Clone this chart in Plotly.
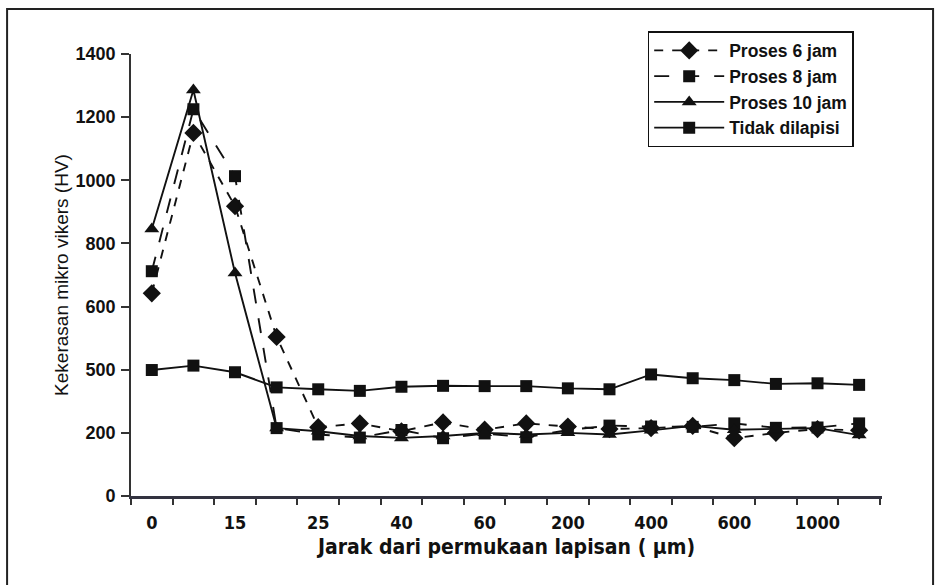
import plotly.graph_objects as go

# Distance from the coating surface (category order along the x axis)
jarak = ["0", "10", "15", "20", "25", "30", "40", "50", "60",
         "100", "200", "300", "400", "500", "600", "800", "1000", "1200"]

# Micro Vickers hardness (HV) for each treatment
proses_6 = [642, 1150, 918, 504, 218, 230, 205, 233, 210,
            230, 220, 212, 215, 222, 183, 200, 212, 208]
proses_8 = [712, 1225, 1013, 215, 195, 185, 209, 183, 198,
            186, 209, 223, 220, 219, 230, 216, 217, 230]
proses_10 = [846, 1286, 706, 215, 205, 190, 184, 190, 200,
             195, 200, 195, 208, 222, 210, 212, 215, 193]
tidak_dilapisi = [399, 413, 392, 344, 338, 333, 346, 349, 348,
                  348, 341, 338, 385, 373, 367, 355, 357, 352]

# Y tick labels as printed on the axis
y_tickvals = [0, 200, 400, 600, 800, 1000, 1200, 1400]
y_ticktext = ["0", "200", "500", "600", "800", "1000", "1200", "1400"]

# Only every second distance is labelled
x_ticktext = [c if i % 2 == 0 else "" for i, c in enumerate(jarak)]

INK = "#111111"
FONT = "Liberation Sans, Arial, sans-serif"
NARROW = "DejaVu Sans Condensed, Liberation Sans, sans-serif"

series = [
    ("Proses 6 jam", proses_6, "dash", "diamond", 14),
    ("Proses 8 jam", proses_8, "longdash", "square", 12),
    ("Proses 10 jam", proses_10, "solid", "triangle-up", 13),
    ("Tidak dilapisi", tidak_dilapisi, "solid", "square", 12),
]

fig = go.Figure()
for name, vals, dash, sym, size in series:
    fig.add_trace(go.Scatter(
        x=jarak, y=vals, name=name, mode="lines+markers",
        line=dict(color=INK, width=1.9, dash=dash),
        marker=dict(symbol=sym, size=size, color=INK),
    ))

fig.update_layout(
    width=937, height=585,
    margin=dict(l=131, r=55, t=54, b=89),
    paper_bgcolor="white", plot_bgcolor="white",
    font=dict(family=FONT, color=INK),
    showlegend=True,
    legend=dict(
        x=0.688, y=1.052, xref="paper", yref="paper",
        xanchor="left", yanchor="top",
        bgcolor="white", bordercolor=INK, borderwidth=1.5,
        font=dict(family=FONT, size=17.5, color=INK, weight="bold"),
        itemwidth=70, tracegroupgap=0,
    ),
)

fig.update_xaxes(
    type="category", categoryorder="array", categoryarray=jarak,
    range=[-0.5, 17.55],
    tickmode="array", tickvals=jarak, ticktext=x_ticktext,
    tickangle=0,
    tickson="boundaries", ticks="outside", ticklen=6, tickwidth=1.5,
    tickcolor="#333333",
    ticklabelstandoff=9,
    tickfont=dict(family=NARROW, size=18, color=INK, weight="bold"),
    showline=True, linecolor="#333340", linewidth=2.5,
    showgrid=False, zeroline=False,
    title=dict(text="Jarak dari permukaan lapisan ( \u03bcm)",
               font=dict(family=NARROW, size=21, color=INK, weight="bold"),
               standoff=7),
)

fig.update_yaxes(
    range=[0, 1400],
    tickmode="array", tickvals=y_tickvals, ticktext=y_ticktext,
    ticks="outside", ticklen=8, tickwidth=1.5, tickcolor="#333333",
    ticklabelstandoff=2,
    tickfont=dict(family=FONT, size=18, color=INK, weight="bold"),
    showline=True, linecolor="#333333", linewidth=1.8,
    showgrid=False, zeroline=False,
    title=dict(text="Kekerasan mikro vikers (HV)",
               font=dict(family=FONT, size=19, color=INK),
               standoff=2),
)

# Outer frame around the figure
fig.add_shape(type="rect", xref="paper", yref="paper",
              x0=-0.165, x1=1.068, y0=-0.3, y1=1.102,
              line=dict(color="#222222", width=2), layer="below")

fig.write_html("out.html")
